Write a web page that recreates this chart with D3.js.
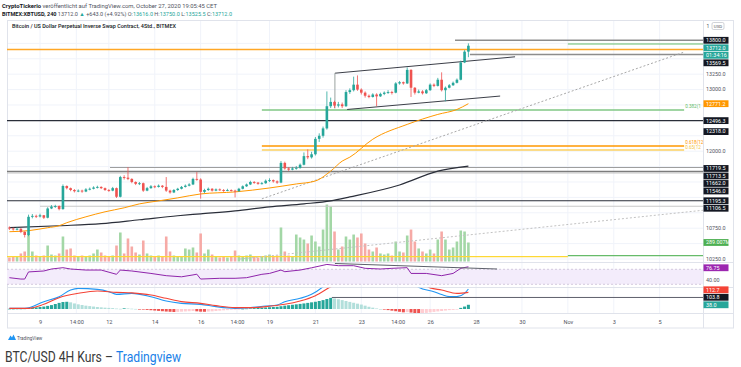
<!DOCTYPE html>
<html><head><meta charset="utf-8">
<script src="https://cdn.jsdelivr.net/npm/d3@7"></script>
<style>body{margin:0;background:#fff}svg{display:block;font-family:Roboto,"Noto Sans",sans-serif}</style>
</head><body><svg id="c" width="741" height="367"></svg>
<script>
// ---------------- DATA ----------------
const firstCandle = Date.UTC(2020, 9, 7, 16); // 4H bars
const firstOpen = 10760;
const closes = [
10745,10730,10740,10690,10640, 10935,10950,10940,10960,10920,
11070,11100,11110,11060,11435, 11400,11370,11350,11360,11345,
11380,11390,11410,11420,11400, 11370,11360,11400,11260,11580,
11570,11550,11500,11470,11480, 11360,11400,11430,11420,11440,
11420,11360,11330,11370,11390, 11420,11440,11460,11550,11540,
11340,11370,11390,11360,11380, 11370,11360,11370,11360,11350,
11390,11430,11460,11500,11490, 11470,11480,11520,11530,11510,
11490,11810,11720,11700,11720, 11730,11780,11920,11900,11950,
12200,12250,12370,12730,12800, 12740,12760,12730,12960,12990,
13080,13000,12950,12900,12880, 12920,12890,12930,12950,12960,
12950,13100,13120,13100,13320, 13030,12950,12970,12940,12990,
13080,13060,13160,12990,13030, 13070,13110,13160,13440,13616,
13712];
const highs = [
10780,10760,10765,10750,10700, 10970,10980,10970,10985,10965,
11090,11125,11130,11120,11460, 11445,11410,11385,11380,11375,
11400,11410,11430,11440,11430, 11410,11385,11420,11410,11600,
11610,11740,11560,11510,11500, 11490,11420,11450,11445,11460,
11450,11580,11375,11385,11405, 11435,11460,11480,11570,11660,
11560,11390,11410,11400,11395, 11395,11385,11390,11380,11375,
11405,11445,11475,11520,11515, 11500,11500,11540,11560,11540,
11525,11840,11830,11740,11745, 11760,11800,11980,12030,11990,
12230,12290,12400,12970,12870, 12820,12800,12790,12990,13020,
13210,13230,13020,12970,12920, 12940,12940,12950,12970,12990,
12980,13120,13140,13130,13360, 13330,13040,13000,12990,13010,
13100,13100,13190,13280,13050, 13090,13130,13180,13470,13640,
13750];
const lows = [
10720,10710,10715,10670,10600, 10620,10910,10915,10925,10900,
10910,11060,11080,11040,11050, 11380,11350,11330,11335,11325,
11335,11365,11380,11395,11385, 11355,11340,11350,11240,11250,
11540,11530,11480,11450,11450, 11340,11350,11390,11400,11410,
11400,11340,11310,11320,11355, 11380,11410,11430,11450,11520,
11230,11320,11355,11345,11350, 11355,11340,11350,11345,11250,
11340,11380,11420,11450,11470, 11455,11460,11470,11500,11490,
11470,11480,11700,11680,11690, 11700,11715,11770,11870,11880,
11930,12150,12220,12350,12700, 12700,12710,12700,12720,12930,
12970,12980,12920,12870,12860, 12870,12730,12880,12910,12930,
12920,12940,13080,13080,13090, 12880,12920,12940,12920,12930,
12980,13040,13050,12970,12810, 13020,13060,13100,13150,13430,
13525.5];
const volumesM = [
61,76,76,122,152, 410,152,91,76,91, 243,106,91,122,380, 182,198,91,76,91,
76,91,122,182,137, 91,76,91,243,441, 122,350,228,137,106, 319,122,91,76,91,
76,380,152,91,76, 76,198,182,213,137, 426,122,182,106,76, 61,76,61,76,167,
91,76,91,106,76, 61,76,91,106,76, 91,517,152,91,76, 410,365,334,274,395,
304,228,486,866,836, 456,182,228,380,334, 410,365,426,274,182, 152,213,122,106,122,
91,304,152,137,395, 486,304,198,152,122, 182,122,334,456,334, 182,213,304,471,456,
289.007];
const emaIdx = [0,5,10,13,15,20,25,30,34,39,44,50,59,68,75,80,84,87,89,95,104,112,117,120];
const emaVal = [10693,10710,10758,10790,10839,10935,11016,11081,11145,11193,11242,11306,11339,11403,11468,11516,11677,11839,11903,12194,12435,12597,12677,12771.2];
const smaIdx = [0,13,24,34,44,50,59,68,77,84,89,102,112,120];
const smaVal = [10758,10790,10823,10887,10952,10984,11032,11097,11145,11194,11258,11452,11677,11758];
const rsiIdx = [0,3,4,5,9,11,14,16,20,24,28,29,32,37,41,45,48,49,50,55,59,62,66,68,71,72,76,79,83,86,90,93,97,100,104,105,109,113,116,118,120];
const rsiVal = [47.6,44,44,63,65.5,70.8,74.3,70.8,68,68,56.6,68,65.5,59,53,50,55,57,44,46,46,47.6,56.6,59,68,63.6,68,74,83,79.6,79.6,72.6,70.8,72.6,74.3,59,59,53,59,72.6,76.75];
const macdIdx = [0,4,9,13,16,18,23,26,28,32,37,41,45,50,54,59,63,67,70,72,76,79,82,84,88,95,100,105,107,111,113,115,117,119,120];
const macdVal = [6,6,66,111,171,186,177,156,132,141,111,72,51,42,21,6,12,27,36,66,96,132,200,260,330,380,340,270,195,156,130,111,111,141,180];
const sigIdx = [0,5,9,13,18,23,28,32,37,41,45,50,54,59,63,67,72,76,80,84,88,95,100,105,110,113,117,120];
const sigVal = [6,6,42,102,141,162,150,145,126,96,66,51,30,12,12,21,42,72,120,200,270,340,345,300,190,171,141,150];
const hist = [
2,2,3,3,4, 8,12,15,18,22,28, 35,45,55,63,65,60,
50,42,36,30,26,22,18,15,12, 10,8,4,2,6, 5,3,1,-2,-5,
-8,-11,-14,-17,-20,-23,-25,-27,-26,-24,-22,-20,-18,-21,-24,-25,-23,-21,-18,-15,-12,-10,-7,-5,-3,
2,4,6,8,10,12,14,16,18,20,
25,30,34,38,42,46,50,55,60,65,72,80,90,100,
95,88,80,72,64,56,48,40,30,20,12,
5,0,-5,-10,-15,
-20,-25,-30,-28,-32,-36,-40,-38,-35,-30,-26,-22,-18,-14,-10,-8,-5,
10,22,38];
const timeTickDates = ["2020-10-09T00:00Z","2020-10-10T14:00Z","2020-10-12T00:00Z","2020-10-14T00:00Z","2020-10-16T00:00Z","2020-10-17T14:00Z","2020-10-19T00:00Z","2020-10-21T00:00Z","2020-10-23T00:00Z","2020-10-24T14:00Z","2020-10-26T00:00Z","2020-10-28T00:00Z","2020-10-30T00:00Z","2020-11-01T00:00Z","2020-11-03T00:00Z","2020-11-05T00:00Z"];
const timeTickLabels = ["9","14:00","12","14","16","14:00","19","21","23","14:00","26","28","30","Nov","3","5"];
const priceTicks = [13750,13500,13250,13000,12750,12500,12250,12000,11750,11500,11250,11000,10750,10500,10250];
// drawn price levels (price, start bar, end bar; null = chart edge)
const levelPrices = [13800, 13740, 13651, 13569.5, 12668, 12496.3, 12084, 12019, 11735, 11670, 11646, 11195.3, 11106.5, 10290, 10306];
const levelFrom   = [116.5, 146, null, 120.4, 66, null, 66, 66, 26.3, null, null, null, 8, null, 146];
const levelTo     = [null, null, null, null, 176.4, null, 176.4, 176.4, null, null, null, null, null, 146, null];
// fib labels as visible before the price scale cuts them
const fibLabels = ["0.382(1", "0.618(12", "0.65(12"];
const channelUpper = [[85.1,13266],[132.2,13532]];
const channelLower = [[88.3,12677],[128.3,12895]];
const channelEdge = [[85.1,13266],[85.1,12694]];
const dashSteep = [[66,11226],[176.6,13613]];
const dashFlat = [[60.3,10250],[181.9,11045]];
const rsiTrend = [[85.1,85.5],[127.5,70.8]];
const macdLevel = 103.8;

// ---------------- LAYOUT ----------------
const svg = d3.select("#c");
const X0 = 7, X1 = 703;
const DAY = 86400000, t9 = Date.UTC(2020, 9, 9), pxDay = 22.95;
const x = d3.scaleUtc().domain([t9 - (40 - X0) / pxDay * DAY, t9 + (X1 - 40) / pxDay * DAY]).range([X0, X1]);
const BAR = 4 * 3600000;
const xi = i => x(new Date(firstCandle + i * BAR));
const yP = d3.scaleLinear().domain([13800, 10250]).range([40.3, 259]);
const yV = d3.scaleLinear().domain([0, 1000]).range([261.5, 261.5 - 1000 / 15.2]);
const yR = d3.scaleLinear().domain([30, 70]).range([284.3, 269.3]);
const yM = d3.scaleLinear().domain([0, 90]).range([309, 299]);
const UP = "#26a69a", DN = "#ef5350";

const defs = svg.append("defs");
function clip(id, y0, y1) {
  defs.append("clipPath").attr("id", id).append("rect").attr("x", X0).attr("y", y0).attr("width", X1 - X0).attr("height", y1 - y0);
}
clip("cm", 20.5, 262); clip("cr", 262.5, 287.5); clip("cq", 287.8, 313);

// grid
const grid = svg.append("g");
const tickDates = timeTickDates.map(d => new Date(d));
tickDates.forEach(d => grid.append("line").attr("x1", x(d)).attr("x2", x(d)).attr("y1", 20.5).attr("y2", 313).attr("stroke", "#f0f3fa").attr("stroke-width", 1));
priceTicks.forEach(p => grid.append("line").attr("x1", X0).attr("x2", X1).attr("y1", yP(p)).attr("y2", yP(p)).attr("stroke", "#f0f3fa"));

// frame
const fr = svg.append("g").attr("stroke", "#e0e3eb").attr("fill", "none").attr("stroke-width", 1);
fr.append("rect").attr("x", X0 + 0.5).attr("y", 20.5).attr("width", 733 - X0).attr("height", 307.5);
fr.append("line").attr("x1", X1 + 0.5).attr("x2", X1 + 0.5).attr("y1", 20.5).attr("y2", 328);
[262.5, 287.5, 313.5].forEach(yy => fr.append("line").attr("x1", X0).attr("x2", 733.5).attr("y1", yy).attr("y2", yy));

// ---------- main pane ----------
const main = svg.append("g").attr("clip-path", "url(#cm)");
const opens = closes.map((c, i) => i ? closes[i - 1] : firstOpen);
// volume
main.selectAll("rect.v").data(volumesM).join("rect")
  .attr("x", (d, i) => xi(i) - 1.3).attr("width", 2.6)
  .attr("y", d => yV(d)).attr("height", d => yV(0) - yV(d))
  .attr("fill", (d, i) => closes[i] >= opens[i] ? "#a3d7a6" : "#f6aaa6");

// levels
const levelStyle = [
  ["#8d8d8d", 1.6], ["#66bb6a", 1], ["#ffa726", 1.6], ["#8d8d8d", 1.3], ["#81c784", 1.6],
  ["#2a2e39", 1.2], ["#ff9800", 1.6], ["#fbd160", 1.6], ["#9e9e9e", 1.2], ["#7c7c7c", 1.6],
  ["#c4c4c4", 1], ["#2a2e39", 1.2], ["#c8c8c8", 1.2], ["#fdd835", 1.2], ["#66bb6a", 1.2]];
levelPrices.forEach((p, k) => {
  const xa = levelFrom[k] == null ? X0 : xi(levelFrom[k]);
  const xb = levelTo[k] == null ? X1 : xi(levelTo[k]);
  main.append("line").attr("x1", xa).attr("x2", xb).attr("y1", yP(p)).attr("y2", yP(p))
    .attr("stroke", levelStyle[k][0]).attr("stroke-width", levelStyle[k][1]);
});
const fibIdx = [4, 6, 7], fibCol = ["#66bb6a", "#ff9800", "#f4c542"], fibDy = [-1.8, -2.2, -0.8];
fibIdx.forEach((k, j) => {
  main.append("text").attr("x", xi(levelTo[k]) + 1).attr("y", yP(levelPrices[k]) + fibDy[j])
    .attr("font-size", 4.6).attr("fill", fibCol[j]).text(fibLabels[j]);
});

const lineIP = d3.line().x(d => xi(d[0])).y(d => yP(d[1]));
// dashed trend lines
main.append("path").attr("d", lineIP(dashSteep)).attr("stroke", "#a8a8a8").attr("stroke-dasharray", "2,2").attr("fill", "none");
main.append("path").attr("d", lineIP(dashFlat)).attr("stroke", "#c2c2c2").attr("stroke-dasharray", "2,2").attr("fill", "none");

// moving averages
const curve = d3.line().x(d => xi(d[0])).y(d => yP(d[1])).curve(d3.curveMonotoneX);
main.append("path").attr("d", curve(smaIdx.map((v, k) => [v, smaVal[k]]))).attr("stroke", "#2a2e39").attr("stroke-width", 1.2).attr("fill", "none");
main.append("path").attr("d", curve(emaIdx.map((v, k) => [v, emaVal[k]]))).attr("stroke", "#ff9800").attr("stroke-width", 1).attr("fill", "none");

// channel
main.append("path").attr("d", lineIP(channelUpper)).attr("stroke", "#3c3f48").attr("fill", "none");
main.append("path").attr("d", lineIP(channelLower)).attr("stroke", "#3c3f48").attr("fill", "none");
main.append("path").attr("d", lineIP(channelEdge)).attr("stroke", "#9aa39f").attr("fill", "none");

// candles
const cg = main.append("g");
closes.forEach((c, i) => {
  const o = opens[i], col = c >= o ? UP : DN, cx = xi(i);
  cg.append("line").attr("x1", cx).attr("x2", cx).attr("y1", yP(highs[i])).attr("y2", yP(lows[i])).attr("stroke", col).attr("stroke-width", 0.8);
  const top = yP(Math.max(o, c)), bot = yP(Math.min(o, c));
  cg.append("rect").attr("x", cx - 1.3).attr("width", 2.6).attr("y", top).attr("height", Math.max(0.9, bot - top)).attr("fill", col);
});

// ---------- RSI pane ----------
const rp = svg.append("g").attr("clip-path", "url(#cr)");
rp.append("rect").attr("x", X0).attr("width", X1 - X0).attr("y", yR(70)).attr("height", yR(30) - yR(70)).attr("fill", "#f3ecfb");
[70, 30].forEach(v => rp.append("line").attr("x1", X0).attr("x2", X1).attr("y1", yR(v)).attr("y2", yR(v)).attr("stroke", "#c9bfd6").attr("stroke-dasharray", "2,2").attr("stroke-width", 0.8));
rp.append("path").attr("d", d3.line().x(d => xi(d[0])).y(d => yR(d[1]))(rsiIdx.map((v, k) => [v, rsiVal[k]])))
  .attr("stroke", "#8e24aa").attr("stroke-width", 1).attr("fill", "none");
rp.append("path").attr("d", d3.line().x(d => xi(d[0])).y(d => yR(d[1]))(rsiTrend)).attr("stroke", "#5d606b").attr("fill", "none");

// ---------- MACD pane ----------
const mp = svg.append("g").attr("clip-path", "url(#cq)");
hist.forEach((h, i) => {
  const prev = i ? hist[i - 1] : 0;
  let col;
  if (h >= 0) col = h >= prev ? "#26a69a" : "#b2dfdb"; else col = h <= prev ? "#ef5350" : "#ffcdd2";
  const y0 = yM(0), y1 = yM(h);
  mp.append("rect").attr("x", xi(i) - 1.5).attr("width", 3).attr("y", Math.min(y0, y1)).attr("height", Math.max(0.6, Math.abs(y1 - y0))).attr("fill", col);
});
const lineM = d3.line().x(d => xi(d[0])).y(d => yM(d[1])).curve(d3.curveMonotoneX);
mp.append("path").attr("d", lineM(macdIdx.map((v, k) => [v, macdVal[k]]))).attr("stroke", "#2196f3").attr("stroke-width", 1.1).attr("fill", "none");
mp.append("path").attr("d", lineM(sigIdx.map((v, k) => [v, sigVal[k]]))).attr("stroke", "#f44336").attr("stroke-width", 1.1).attr("fill", "none");
mp.append("line").attr("x1", xi(84.3)).attr("x2", X1).attr("y1", yM(macdLevel)).attr("y2", yM(macdLevel)).attr("stroke", "#5d606b").attr("stroke-width", 1);

// ---------- time axis ----------
const ax = svg.append("g").attr("transform", "translate(0,313)")
  .call(d3.axisBottom(x).tickValues(tickDates).tickFormat((d, i) => timeTickLabels[i]).tickSize(0).tickPadding(7));
ax.select(".domain").remove();
ax.selectAll("text").attr("font-size", 5.6).attr("fill", "#50535e").attr("font-family", "Roboto");

// ---------- price axis ----------
const pa = svg.append("g").attr("font-size", 5.4);
function place(list, dir) {
  list.sort((a, b) => dir * (a.y - b.y));
  for (let k = 1; k < list.length; k++) {
    if (dir > 0 && list[k].y < list[k - 1].y + 7.5) list[k].y = list[k - 1].y + 7.5;
    if (dir < 0 && list[k].y > list[k - 1].y - 7.5) list[k].y = list[k - 1].y - 7.5;
  }
  return list;
}
const K = "#131722";
const boxList = place([
  {y: yP(13800), t: "13800.0", bg: K},
  {y: yP(13712), t: "13712.0", bg: UP},
  {y: yP(13712) + 0.01, t: "01:34:16", bg: UP},
  {y: yP(13569.5), t: "13569.5", bg: K},
  {y: yP(12771.2), t: "12771.2", bg: "#ff9800"},
  {y: yP(12496.3), t: "12496.3", bg: K},
  {y: yP(12318), t: "12318.0", bg: K},
  {y: yP(11719.5), t: "11719.5", bg: K},
  {y: yP(11713.5), t: "11713.5", bg: K},
  {y: yP(11662), t: "11662.0", bg: K},
  {y: yP(11546), t: "11546.0", bg: K},
  {y: yP(11195.3), t: "11195.3", bg: K},
  {y: yP(11106.5), t: "11106.5", bg: K},
  {y: yV(289.007), t: "289.007M", bg: "#4caf50"},
  {y: yR(76.75) + 1, t: "76.75", bg: "#9c27b0"}
], 1).concat(place([
  {y: yM(112.7), t: "112.7", bg: "#f44336"},
  {y: yM(103.8), t: "103.8", bg: K},
  {y: yM(38), t: "38.0", bg: UP}
], -1));
const plain = priceTicks.map(p => ({y: yP(p), t: p.toFixed(1)}))
  .concat([{y: yR(40), t: "40.00"}, {y: yM(0) + 1.5, t: "0.0"}])
  .filter(l => boxList.every(b => Math.abs(b.y - l.y) > 6.8));
plain.forEach(l => pa.append("text").attr("x", 706).attr("y", l.y).attr("dy", "0.35em").attr("fill", "#50535e").text(l.t));
boxList.forEach(l => {
  pa.append("rect").attr("x", 703.5).attr("y", l.y - 3.4).attr("width", 25).attr("height", 6.8).attr("fill", l.bg);
  pa.append("text").attr("x", 706).attr("y", l.y).attr("dy", "0.35em").attr("fill", "#fff").text(l.t);
});
// currency box
pa.append("text").attr("x", 706.5).attr("y", 27.5).attr("fill", "#50535e").attr("font-size", 5).text("1");
pa.append("rect").attr("x", 712).attr("y", 22.5).attr("width", 12).attr("height", 7).attr("rx", 1.5).attr("fill", "#fff").attr("stroke", "#b2b5be").attr("stroke-width", 0.6);
pa.append("text").attr("x", 718).attr("y", 26).attr("dy", "0.35em").attr("text-anchor", "middle").attr("font-size", 4.4).attr("fill", "#50535e").text("USD");

// ---------- header ----------
const h1 = svg.append("text").attr("x", 2).attr("y", 8).attr("font-size", 5.6).attr("fill", "#50535e").attr("textLength", 215).attr("lengthAdjust", "spacingAndGlyphs");
h1.append("tspan").attr("font-weight", 700).attr("fill", "#131722").text("CryptoTickerio");
h1.append("tspan").text(" veröffentlicht auf TradingView.com, October 27, 2020 19:05:45 CET");
const h2 = svg.append("text").attr("x", 2).attr("y", 15.5).attr("font-size", 5.6).attr("fill", "#50535e").attr("textLength", 230).attr("lengthAdjust", "spacingAndGlyphs");
h2.append("tspan").attr("font-weight", 700).attr("fill", "#131722").text("BITMEX:XBTUSD, 240 ");
h2.append("tspan").text(" 13712.0 ");
h2.append("tspan").attr("fill", UP).text("▲");
h2.append("tspan").text(" +643.0 (+4.92%) O:");
h2.append("tspan").attr("fill", UP).text("13616.0");
h2.append("tspan").text(" H:");
h2.append("tspan").attr("fill", UP).text("13750.0");
h2.append("tspan").text(" L:");
h2.append("tspan").attr("fill", UP).text("13525.5");
h2.append("tspan").text(" C:");
h2.append("tspan").attr("fill", UP).text("13712.0");
svg.append("text").attr("x", 12).attr("y", 28).attr("font-size", 5.6).attr("font-weight", 500).attr("fill", "#131722")
  .attr("textLength", 164).attr("lengthAdjust", "spacingAndGlyphs").text("Bitcoin / US Dollar Perpetual Inverse Swap Contract, 4Std., BITMEX");

// ---------- footer ----------
const logo = svg.append("g");
logo.append("path").attr("d", "M8,340 L10.5,335.5 L12,337.5 L13.5,334.5 L16,340 Z").attr("fill", "#2196f3");
logo.append("text").attr("x", 17).attr("y", 339.5).attr("font-size", 4.6).attr("fill", "#50535e").text("TradingView");
const capG = svg.append("g");
const cap = capG.append("text").attr("font-size", 15.5).attr("x", 0).attr("y", 0);
cap.append("tspan").attr("fill", "#3a3a3a").text("BTC/USD 4H Kurs – ");
cap.append("tspan").attr("fill", "#1a7fe8").text("Tradingview");
const capW = cap.node().getComputedTextLength();
capG.attr("transform", `translate(5,361.5) scale(${176 / capW},1)`);
</script></body></html>
